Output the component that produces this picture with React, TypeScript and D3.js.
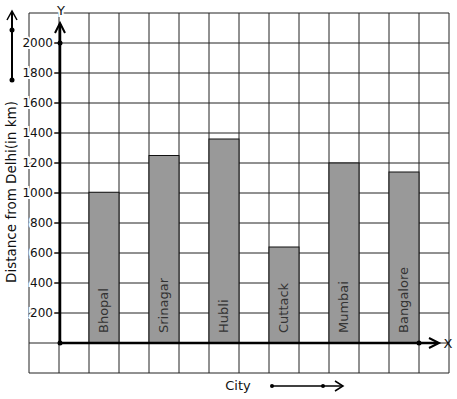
import React from 'react'
import * as d3 from 'd3'

const cities = ['Bhopal', 'Srinagar', 'Hubli', 'Cuttack', 'Mumbai', 'Bangalore']
const distances = [1005, 1250, 1360, 640, 1200, 1140]
const yTicks = [200, 400, 600, 800, 1000, 1200, 1400, 1600, 1800, 2000]

const W = 457, H = 399
const font = 'DejaVu Sans, sans-serif'

export default function App() {
  const y = d3.scaleLinear().domain([0, 2200]).range([343, 13])
  const x = d3.scaleBand<string>().domain(cities).range([59, 449]).paddingInner(0.5).paddingOuter(0.5)
  // grid columns every 30px, same spacing as 200 km
  const col = d3.scaleLinear().domain([0, 14]).range([29, 449])
  const gridY = d3.range(-200, 2201, 200)
  const gridX = d3.range(0, 15)
  const x0 = 60, y0 = y(0)

  return (
    <svg width={W} height={H} style={{position: 'absolute', left: 0, top: 0, background: '#fff'}}>
      {gridY.map(v => (
        <line key={'h' + v} x1={29} x2={449} y1={y(v)} y2={y(v)} stroke="#222" strokeWidth={1} />
      ))}
      {gridX.map(i => (
        <line key={'v' + i} x1={col(i)} x2={col(i)} y1={13} y2={373} stroke="#222" strokeWidth={1} />
      ))}

      {cities.map((c, i) => (
        <g key={c}>
          <rect x={x(c)} y={y(distances[i])} width={x.bandwidth()} height={y0 - y(distances[i])}
            fill="#999" stroke="#111" strokeWidth={1} />
          <text transform={`translate(${x(c)! + x.bandwidth() / 2 + 4},333) rotate(-90)`}
            fontFamily={font} fontSize={13} fill="#333">{c}</text>
        </g>
      ))}

      {/* y tick labels */}
      {yTicks.map(t => (
        <g key={t}>
          <line x1={54} x2={x0} y1={y(t)} y2={y(t)} stroke="#000" strokeWidth={1} />
          <text x={53} y={y(t)} dy="0.35em" textAnchor="end" fontFamily={font} fontSize={12}
            fill="#111" stroke="#fff" strokeWidth={4} paintOrder="stroke">{t}</text>
        </g>
      ))}

      {/* y axis */}
      <line x1={x0} x2={x0} y1={y0} y2={24} stroke="#000" strokeWidth={2.5} />
      <polyline points={`${x0 - 5},33 ${x0},23 ${x0 + 5},33`} fill="none" stroke="#000" strokeWidth={2} />
      <circle cx={x0} cy={y(2000)} r={2.5} fill="#000" />
      <text x={61} y={15} textAnchor="middle" fontFamily={font} fontSize={13} fill="#111"
        stroke="#fff" strokeWidth={4} paintOrder="stroke">Y</text>

      {/* x axis */}
      <line x1={x0} x2={438} y1={y0} y2={y0} stroke="#000" strokeWidth={2.5} />
      <polyline points={`429,338 439,${y0} 429,348`} fill="none" stroke="#000" strokeWidth={2} />
      <circle cx={x0} cy={y0} r={2.5} fill="#000" />
      <circle cx={419} cy={y0} r={2.5} fill="#000" />
      <text x={448} y={y0} dy="0.35em" textAnchor="middle" fontFamily={font} fontSize={13} fill="#111">X</text>

      {/* left arrow */}
      <line x1={12} x2={12} y1={80} y2={12} stroke="#000" strokeWidth={2} />
      <polyline points="7,20 12,11 17,20" fill="none" stroke="#000" strokeWidth={1.5} />
      <circle cx={12} cy={30} r={2.5} fill="#000" />
      <circle cx={12} cy={80} r={2.5} fill="#000" />

      <text transform="translate(16,192) rotate(-90)" textAnchor="middle" fontFamily={font}
        fontSize={13.5} fill="#111" stroke="#fff" strokeWidth={4} paintOrder="stroke">Distance from Delhi(in km)</text>

      {/* x title and arrow */}
      <text x={238} y={390} textAnchor="middle" fontFamily={font} fontSize={13} fill="#111">City</text>
      <line x1={272} x2={342} y1={386} y2={386} stroke="#000" strokeWidth={1.5} />
      <polyline points="335,381 343,386 335,391" fill="none" stroke="#000" strokeWidth={1.5} />
      <circle cx={272} cy={386} r={2} fill="#000" />
      <circle cx={323} cy={386} r={2} fill="#000" />
    </svg>
  )
}
